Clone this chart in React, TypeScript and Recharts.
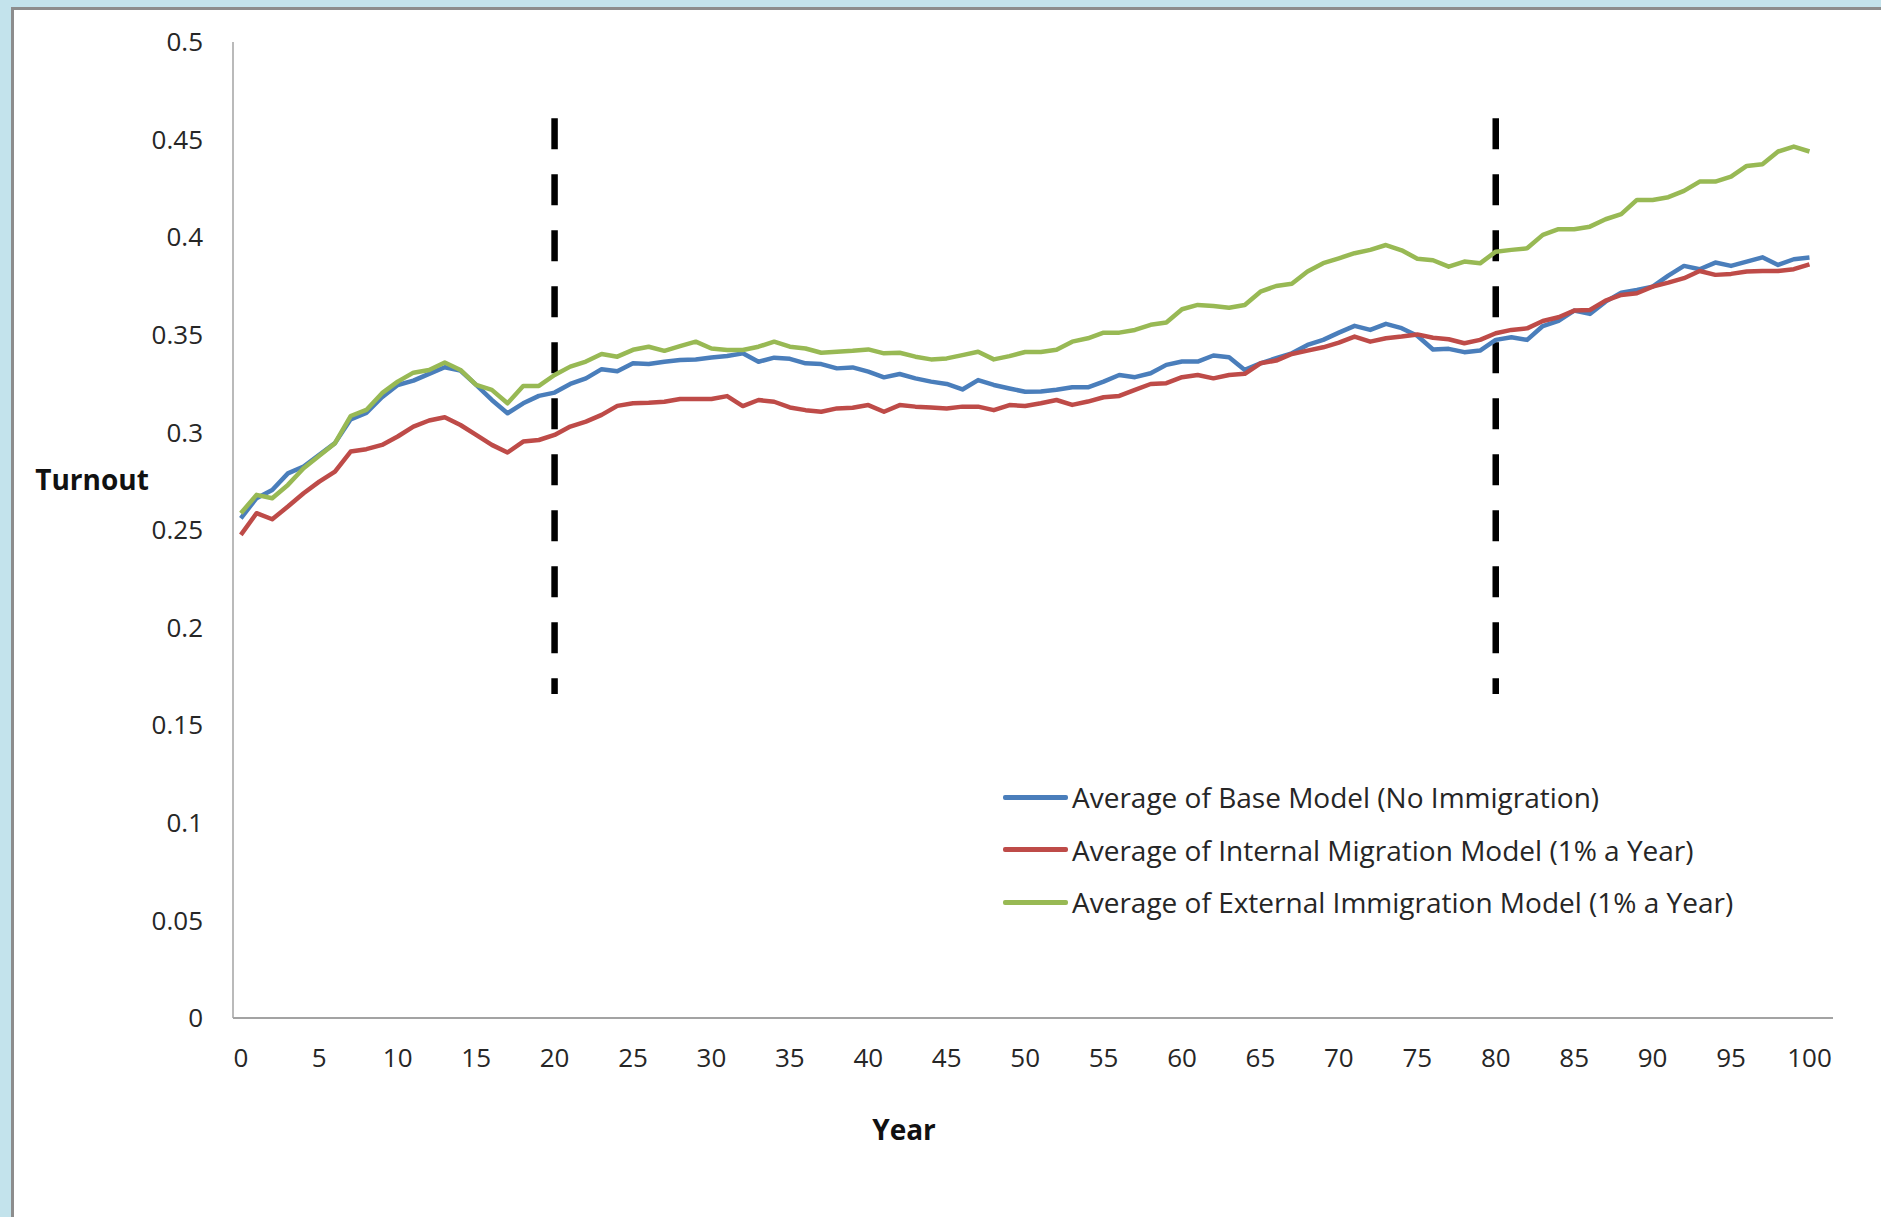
import React from 'react';
import { LineChart, Line, XAxis, YAxis, Legend, ReferenceLine } from 'recharts';

// Simulation years 0..100
const years: number[] = Array.from({ length: 101 }, (_, i) => i);

const baseModel: number[] = [
  0.256, 0.2663, 0.2705, 0.279, 0.2825, 0.2885, 0.2945, 0.3067, 0.31, 0.318,
  0.3243, 0.3265, 0.33, 0.3334, 0.3317, 0.3243, 0.3166, 0.3098, 0.3149, 0.3187,
  0.3204, 0.3248, 0.3277, 0.3324, 0.3313, 0.3354, 0.335, 0.3362, 0.3371, 0.3374,
  0.3384, 0.3391, 0.3405, 0.3362, 0.3383, 0.3377, 0.3354, 0.335, 0.3328, 0.3333,
  0.3311, 0.3282, 0.3299, 0.3277, 0.326, 0.3248, 0.322, 0.3268, 0.3243, 0.3225,
  0.3208, 0.3209, 0.3218, 0.3231, 0.3231, 0.326, 0.3294, 0.3283, 0.3303, 0.3346,
  0.3363, 0.3363, 0.3394, 0.3385, 0.332, 0.3354, 0.338, 0.3405, 0.3448, 0.3474,
  0.3511, 0.3546, 0.3525, 0.3556, 0.3534, 0.3495, 0.3425, 0.3428, 0.3411, 0.3419,
  0.3474, 0.3487, 0.3474, 0.3545, 0.3571, 0.3624, 0.3607, 0.367, 0.3716, 0.373,
  0.3747, 0.3803, 0.3853, 0.3836, 0.387, 0.3853, 0.3875, 0.3897, 0.3858, 0.3887,
  0.3896,
];

const internalMigration: number[] = [
  0.2475, 0.2586, 0.2555, 0.262, 0.2688, 0.2748, 0.2799, 0.2902, 0.2914, 0.2936,
  0.2979, 0.303, 0.3061, 0.3078, 0.3038, 0.2987, 0.2936, 0.2897, 0.2953, 0.2961,
  0.2987, 0.303, 0.3055, 0.309, 0.3136, 0.3149, 0.3152, 0.3157, 0.3171, 0.3171,
  0.3171, 0.3186, 0.3135, 0.3166, 0.3157, 0.3128, 0.3114, 0.3106, 0.3123, 0.3126,
  0.314, 0.3106, 0.314, 0.3132, 0.3128, 0.3123, 0.3132, 0.3132, 0.3114, 0.314,
  0.3135, 0.3149, 0.3166, 0.3141, 0.3158, 0.318, 0.3187, 0.3218, 0.3248, 0.3252,
  0.3283, 0.3294, 0.3277, 0.3294, 0.33, 0.3354, 0.3368, 0.3402, 0.3419, 0.3436,
  0.346, 0.3491, 0.3465, 0.3482, 0.3491, 0.3502, 0.3485, 0.3477, 0.3457, 0.3474,
  0.3508, 0.3525, 0.3533, 0.3571, 0.359, 0.3624, 0.3627, 0.3675, 0.3704, 0.3713,
  0.3747, 0.3767, 0.379, 0.3827, 0.3807, 0.3812, 0.3824, 0.3827, 0.3827, 0.3836,
  0.3861,
];

const externalImmigration: number[] = [
  0.2586, 0.268, 0.2663, 0.2731, 0.2816, 0.288, 0.2945, 0.3084, 0.3115, 0.3201,
  0.326, 0.3306, 0.332, 0.3358, 0.332, 0.3243, 0.3218, 0.3149, 0.3238, 0.3238,
  0.3294, 0.3337, 0.3363, 0.3402, 0.3388, 0.3423, 0.3439, 0.3418, 0.3442, 0.3465,
  0.343, 0.3422, 0.3422, 0.3439, 0.3465, 0.3439, 0.343, 0.3408, 0.3413, 0.3418,
  0.3425, 0.3405, 0.3408, 0.3388, 0.3374, 0.3379, 0.3396, 0.3413, 0.3374, 0.3391,
  0.3412, 0.3412, 0.3423, 0.3465, 0.3482, 0.3511, 0.3511, 0.3525, 0.3551, 0.3563,
  0.3631, 0.3653, 0.3648, 0.3639, 0.3653, 0.3721, 0.375, 0.3761, 0.3824, 0.3867,
  0.3892, 0.3918, 0.3935, 0.396, 0.3933, 0.389, 0.3882, 0.3849, 0.3875, 0.3866,
  0.3926, 0.3935, 0.3943, 0.4012, 0.4041, 0.4041, 0.4054, 0.4092, 0.4118, 0.4191,
  0.4191, 0.4205, 0.4237, 0.4285, 0.4285, 0.431, 0.4365, 0.4374, 0.4439, 0.4464,
  0.4439,
];

const xTicks: number[] = [0, 5, 10, 15, 20, 25, 30, 35, 40, 45, 50, 55, 60, 65, 70, 75, 80, 85, 90, 95, 100];
const yTicks: number[] = [0, 0.05, 0.1, 0.15, 0.2, 0.25, 0.3, 0.35, 0.4, 0.45, 0.5];

// Period boundaries marked with dashed verticals
const periodMarks: number[] = [20, 80];
const markTop = 0.461;
const markBottom = 0.166;

const seriesInfo = [
  { key: 'base', name: 'Average of Base Model (No Immigration)', color: '#4A7EBB' },
  { key: 'internal', name: 'Average of Internal Migration Model (1% a Year)', color: '#BE4B48' },
  { key: 'external', name: 'Average of External Immigration Model (1% a Year)', color: '#98B954' },
];

const data = years.map((year, i) => ({
  year,
  base: baseModel[i],
  internal: internalMigration[i],
  external: externalImmigration[i],
}));

const FONT = '"Open Sans", "Noto Sans", sans-serif';
const TEXT = '#262626';

const LegendBox = () => (
  <div style={{ fontFamily: FONT, fontSize: 28, color: TEXT }}>
    {seriesInfo.map((s) => (
      <div key={s.key} style={{ display: 'flex', alignItems: 'center', height: 52.5, whiteSpace: 'nowrap' }}>
        <div style={{ width: 65, height: 5, background: s.color, borderRadius: 2, marginRight: 4 }} />
        <span>{s.name}</span>
      </div>
    ))}
  </div>
);

export default function App() {
  return (
    <div style={{ position: 'relative', width: 1881, height: 1217, background: '#C3E3EC', overflow: 'hidden' }}>
      <style>{'body{margin:0}'}</style>
      <div
        style={{
          position: 'absolute',
          left: 11,
          top: 7,
          right: 0,
          bottom: 0,
          background: '#ffffff',
          borderLeft: '3px solid #8d8d8d',
          borderTop: '3px solid #8d8d8d',
        }}
      />
      <div style={{ position: 'absolute', left: 0, top: 0 }}>
        <LineChart
          width={1881}
          height={1217}
          data={data}
          margin={{ top: 42, right: 48, bottom: 139, left: 0 }}
        >
          <XAxis
            dataKey="year"
            type="number"
            domain={[-0.5, 101.5]}
            ticks={xTicks}
            interval={0}
            height={60}
            tickLine={false}
            tickSize={0}
            tickMargin={31}
            axisLine={{ stroke: '#a3a3a3', strokeWidth: 2 }}
            tick={{ fill: TEXT, fontSize: 26, fontFamily: FONT }}
            label={(props: any) => {
              const vb = props.viewBox || {};
              return (
                <text
                  x={904}
                  y={(vb.y || 1018) + 122}
                  textAnchor="middle"
                  fontFamily={FONT}
                  fontSize={28}
                  fontWeight="bold"
                  fill="#111"
                >
                  Year
                </text>
              );
            }}
          />
          <YAxis
            type="number"
            domain={[0, 0.5]}
            ticks={yTicks}
            interval={0}
            width={233}
            tickLine={false}
            tickSize={0}
            tickMargin={30}
            axisLine={{ stroke: '#a3a3a3', strokeWidth: 1.5 }}
            tick={{ fill: TEXT, fontSize: 26, fontFamily: FONT }}
            label={(props: any) => {
              const vb = props.viewBox || {};
              return (
                <text
                  x={(vb.x || 0) + 92}
                  y={490}
                  textAnchor="middle"
                  fontFamily={FONT}
                  fontSize={28}
                  fontWeight="bold"
                  fill="#111"
                >
                  Turnout
                </text>
              );
            }}
          />
          {periodMarks.map((m) => (
            <ReferenceLine
              key={m}
              segment={[
                { x: m, y: markTop },
                { x: m, y: markBottom },
              ]}
              stroke="#000"
              strokeWidth={6.5}
              strokeDasharray="31 25"
            />
          ))}
          {seriesInfo.map((s) => (
            <Line
              key={s.key}
              type="linear"
              dataKey={s.key}
              name={s.name}
              stroke={s.color}
              strokeWidth={4.5}
              strokeLinejoin="round"
              dot={false}
              activeDot={false}
              isAnimationActive={false}
            />
          ))}
          <Legend
            layout="vertical"
            align="center"
            verticalAlign="middle"
            content={() => <LegendBox />}
            wrapperStyle={{ left: 1003, top: 771, width: 'auto' }}
          />
        </LineChart>
      </div>
    </div>
  );
}
